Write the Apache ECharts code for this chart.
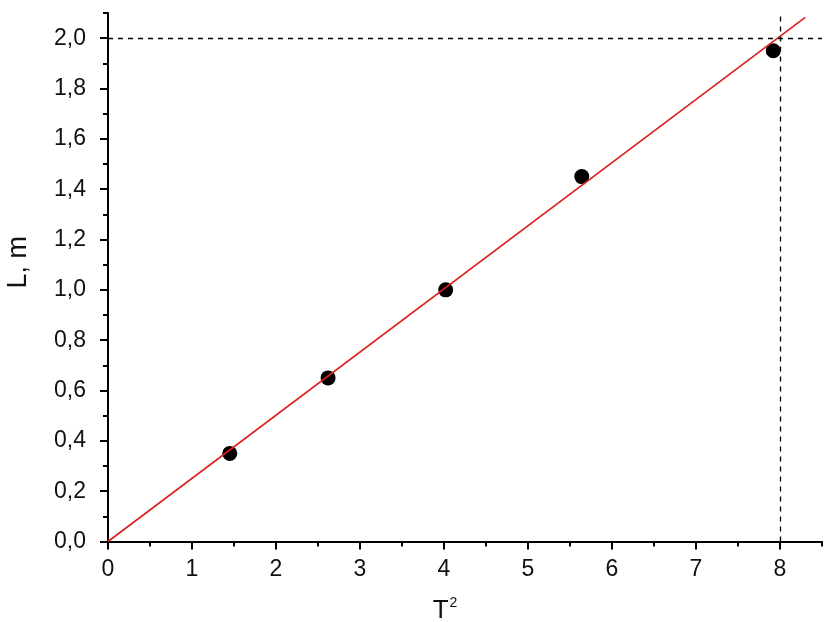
<!DOCTYPE html>
<html>
<head>
<meta charset="utf-8">
<script src="https://cdn.jsdelivr.net/npm/echarts@6/dist/echarts.min.js"></script>
<style>html,body{margin:0;padding:0;background:#fff}#c{width:834px;height:622px}</style>
</head>
<body>
<div id="c"></div>
<script>
// Measured points
var xPts = [1.45, 2.62, 4.02, 5.64, 7.92];
var yPts = [0.35, 0.65, 1.00, 1.45, 1.95];
// Linear fit line endpoints
var fitX = [0, 8.3];
var fitY = [0, 2.083];
// Guide lines
var guideX = 8;
var guideY = 2.0;
// Tick values and labels
var xTickVals = [0, 1, 2, 3, 4, 5, 6, 7, 8];
var xTickLabels = ['0', '1', '2', '3', '4', '5', '6', '7', '8'];
var yTickVals = [0, 0.2, 0.4, 0.6, 0.8, 1.0, 1.2, 1.4, 1.6, 1.8, 2.0];
var yTickLabels = ['0,0', '0,2', '0,4', '0,6', '0,8', '1,0', '1,2', '1,4', '1,6', '1,8', '2,0'];

function labelFor(vals, labels) {
  return function (v) {
    for (var i = 0; i < vals.length; i++) {
      if (Math.abs(vals[i] - v) < 1e-6) return labels[i];
    }
    return '';
  };
}

var font = 'Arial, "Liberation Sans", sans-serif';
var chart = echarts.init(document.getElementById('c'), null, {renderer: 'canvas'});
chart.setOption({
  animation: false,
  backgroundColor: '#fff',
  grid: {left: 108, right: 12, top: 13, bottom: 80.5, containLabel: false, outerBoundsMode: 'none'},
  xAxis: [{
    type: 'value', position: 'bottom', min: 0, max: 8.5, interval: 1,
    name: '{t|T}{s|2}', nameLocation: 'middle', nameGap: 55,
    nameTextStyle: {
      padding: [0, 40, 0, 0],
      rich: {
        t: {fontSize: 26, fontFamily: font, color: '#111'},
        s: {fontSize: 14, fontFamily: font, color: '#111', padding: [0, 0, 14, 1]}
      }
    },
    axisLine: {onZero: false, lineStyle: {color: '#000', width: 2}},
    axisTick: {show: true, inside: false, length: 8, customValues: xTickVals, lineStyle: {color: '#000', width: 2}},
    axisLabel: {customValues: xTickVals, formatter: labelFor(xTickVals, xTickLabels), margin: 17, fontSize: 23, fontFamily: font, color: '#111'},
    splitLine: {show: false}
  }, {
    type: 'value', position: 'bottom', min: 0, max: 8.5, interval: 0.5,
    axisLine: {show: false, onZero: false},
    axisTick: {show: true, inside: false, length: 5, lineStyle: {color: '#000', width: 2}},
    axisLabel: {show: false},
    splitLine: {show: false}
  }],
  yAxis: [{
    type: 'value', position: 'left', min: 0, max: 2.1, interval: 0.2,
    name: 'L, m', nameLocation: 'middle', nameGap: 76,
    nameTextStyle: {fontSize: 27, fontFamily: font, color: '#111', padding: [0, 0, 0, 30]},
    axisLine: {onZero: false, lineStyle: {color: '#000', width: 2}},
    axisTick: {show: true, inside: false, length: 8, customValues: yTickVals, lineStyle: {color: '#000', width: 2}},
    axisLabel: {customValues: yTickVals, formatter: labelFor(yTickVals, yTickLabels), margin: 22, fontSize: 23, fontFamily: font, color: '#111'},
    splitLine: {show: false}
  }, {
    type: 'value', position: 'left', min: 0, max: 2.1, interval: 0.1,
    axisLine: {show: false, onZero: false},
    axisTick: {show: true, inside: false, length: 5, lineStyle: {color: '#000', width: 2}},
    axisLabel: {show: false},
    splitLine: {show: false}
  }],
  series: [{
    type: 'scatter', xAxisIndex: 0, yAxisIndex: 0, z: 2,
    symbol: 'circle', symbolSize: 15,
    itemStyle: {color: '#000', opacity: 1},
    data: xPts.map(function (x, i) { return [x, yPts[i]]; }),
    markLine: {
      silent: true, symbol: 'none', label: {show: false},
      lineStyle: {color: '#000', type: [5, 5], width: 1.3},
      data: [{yAxis: guideY}, {xAxis: guideX}]
    }
  }, {
    type: 'line', xAxisIndex: 0, yAxisIndex: 0, z: 3,
    showSymbol: false, symbol: 'none',
    lineStyle: {color: '#dd1f1f', width: 1.6},
    data: fitX.map(function (x, i) { return [x, fitY[i]]; })
  }]
});
</script>
</body>
</html>
